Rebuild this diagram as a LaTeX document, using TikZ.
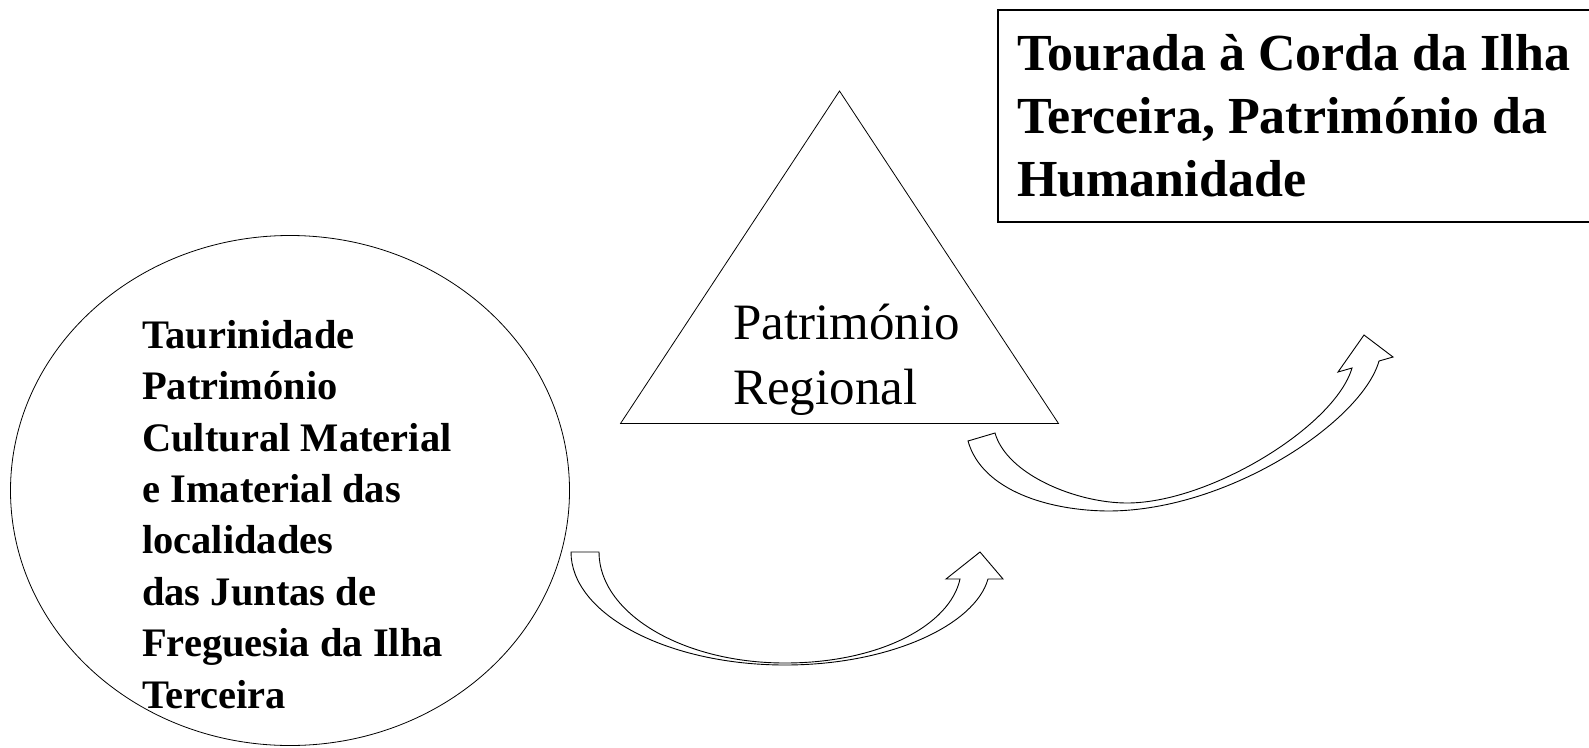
\documentclass[tikz,border=0pt]{standalone}
\usepackage{fontspec}
\setmainfont{Liberation Serif}
\usetikzlibrary{shapes.geometric}

\begin{document}
\begin{tikzpicture}[x = 1pt, y = -1pt]
	\tikzstyle{OutlineStyle} = [draw, line width = 0.8pt]
	\tikzstyle{BoxStyle} = [draw, line width = 1.4pt]
	\tikzstyle{ArrowStyle} = [draw, fill = white, line width = 0.9pt]
	\tikzstyle{boldText} = [inner sep = 0pt, align = left, anchor = base west, font = \bfseries\fontsize{40.5}{51.4}\selectfont]
	\tikzstyle{titleText} = [inner sep = 0pt, align = left, anchor = base west, font = \bfseries\fontsize{52}{63}\selectfont]
	\tikzstyle{plainText} = [inner sep = 0pt, align = left, anchor = base west, font = \fontsize{51}{65}\selectfont]
	\useasboundingbox (0,0) rectangle (1589,747);
	% ellipse: local heritage
	\node[OutlineStyle, ellipse, minimum width = 559pt, minimum height = 510pt] (local) at (290,490.5) {};
	\node[boldText] (localText) at (142,708) {Taurinidade\\Património\\Cultural Material\\e Imaterial das\\localidades\\das Juntas de\\Freguesia da Ilha\\Terceira};
	% triangle: regional heritage
	\coordinate (triLeft) at (620.5,423.5);
	\coordinate (triTop) at (839.5,91);
	\coordinate (triRight) at (1058.5,423.5);
	\draw[OutlineStyle] (triLeft) -- (triTop) -- (triRight) -- cycle;
	\node[plainText] (regionalText) at (733,404) {Património\\Regional};
	% box: world heritage
	\draw[BoxStyle] (998,10) rectangle (1600,222);
	\node[titleText] (worldText) at (1017,196) {Tourada à Corda da Ilha\\Terceira, Património da\\Humanidade};
	% curved arrows
	\draw[ArrowStyle] (571,552) .. controls (571,614) and (667,665) .. (785,665) .. controls (890,665) and (975,625) .. (988,579) -- (1003,579) -- (980,552) -- (946,579) -- (960,579) .. controls (950,625) and (880,663) .. (785,663) .. controls (682,663) and (599,613) .. (599,552) -- cycle;
	\draw[ArrowStyle] (968,441) .. controls (982,491) and (1050,511) .. (1110,511) .. controls (1230,510) and (1362,421) .. (1379,361) -- (1393,357) -- (1364,335) -- (1338,372) -- (1352,368) .. controls (1335,426) and (1210,503) .. (1127,503) .. controls (1077,503) and (1007,475) .. (995,433) -- cycle;
\end{tikzpicture}
\end{document}
